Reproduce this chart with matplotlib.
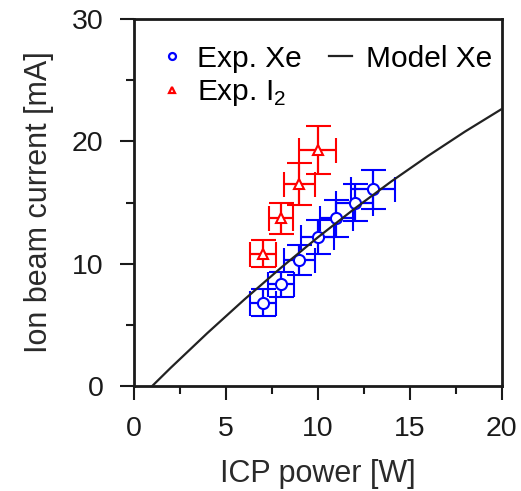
import matplotlib
matplotlib.use("Agg")
import matplotlib.pyplot as plt
from matplotlib.lines import Line2D
from matplotlib.ticker import MultipleLocator

plt.rcParams['font.family'] = ['Liberation Sans', 'DejaVu Sans']
plt.rcParams['mathtext.fontset'] = 'custom'
plt.rcParams['mathtext.rm'] = 'Liberation Sans'

# Exp. Xe
xe_power = [7, 8, 9, 10, 11, 12, 13]
xe_current = [6.8, 8.3, 10.3, 12.2, 13.7, 15.0, 16.1]
xe_power_err = [0.7, 0.7, 0.85, 0.9, 0.9, 1.0, 1.2]
xe_current_err = [1.1, 1.0, 1.2, 1.4, 1.5, 1.5, 1.6]

# Exp. I2
i2_power = [7, 8, 9, 10]
i2_current = [10.8, 13.7, 16.5, 19.3]
i2_power_err = [0.7, 0.65, 0.85, 1.0]
i2_current_err = [1.1, 1.3, 1.7, 2.0]

# Model Xe
model_power = [1, 2, 4, 6, 8, 10, 12, 14, 16, 18, 20]
model_current = [0.0, 1.48, 4.33, 7.06, 9.67, 12.15, 14.5, 16.73, 18.82, 20.8, 22.65]

fig = plt.figure(figsize=(5.21, 4.91), dpi=100)
ax = fig.add_axes([0.257, 0.214, 0.706, 0.747])

ax.errorbar(xe_power, xe_current, xerr=xe_power_err, yerr=xe_current_err,
            fmt='o', color='#0000ff', mfc='white', mec='#0000ff', ms=8, mew=1.5,
            elinewidth=1.6, capsize=9, capthick=1.6, zorder=2)
ax.errorbar(i2_power, i2_current, xerr=i2_power_err, yerr=i2_current_err,
            fmt='^', color='#ff0000', mfc='white', mec='#ff0000', ms=7, mew=1.5,
            elinewidth=1.6, capsize=9, capthick=1.6, zorder=2)
ax.plot(model_power, model_current, color='#222222', lw=1.6, zorder=3)

ax.set_xlim(0, 20)
ax.set_ylim(0, 30)
ax.xaxis.set_major_locator(MultipleLocator(5))
ax.xaxis.set_minor_locator(MultipleLocator(2.5))
ax.yaxis.set_major_locator(MultipleLocator(10))
ax.yaxis.set_minor_locator(MultipleLocator(5))
ax.tick_params(which='both', direction='out', top=False, right=False,
               width=1.5, labelsize=20.5, pad=12, colors='#1a1a1a')
ax.tick_params(which='major', length=10)
ax.tick_params(which='minor', length=6)
for s in ax.spines.values():
    s.set_visible(True)
    s.set_linewidth(2.0)
    s.set_color('#1a1a1a')

ax.set_xlabel('ICP power [W]', fontsize=22, labelpad=12, color='#2a2a2a')
ax.set_ylabel('Ion beam current [mA]', fontsize=22, labelpad=13, color='#2a2a2a')

handles = [
    Line2D([], [], ls='none', marker='o', ms=5, mfc='none', mec='#0000ff', mew=1.6),
    Line2D([], [], ls='none', marker='^', ms=5, mfc='none', mec='#ff0000', mew=1.6),
    Line2D([], [], color='#222222', lw=1.6),
]
labels = ['Exp. Xe', 'Exp. I$_2$', 'Model Xe']
ax.legend(handles, labels, loc='upper left', ncol=2, frameon=False,
          fontsize=21.5, handlelength=0.8, handletextpad=0.45, columnspacing=0.9,
          labelspacing=0.18, borderaxespad=0.0, borderpad=0.0,
          bbox_to_anchor=(0.07, 0.93))

fig.savefig('out.png', dpi=100)
